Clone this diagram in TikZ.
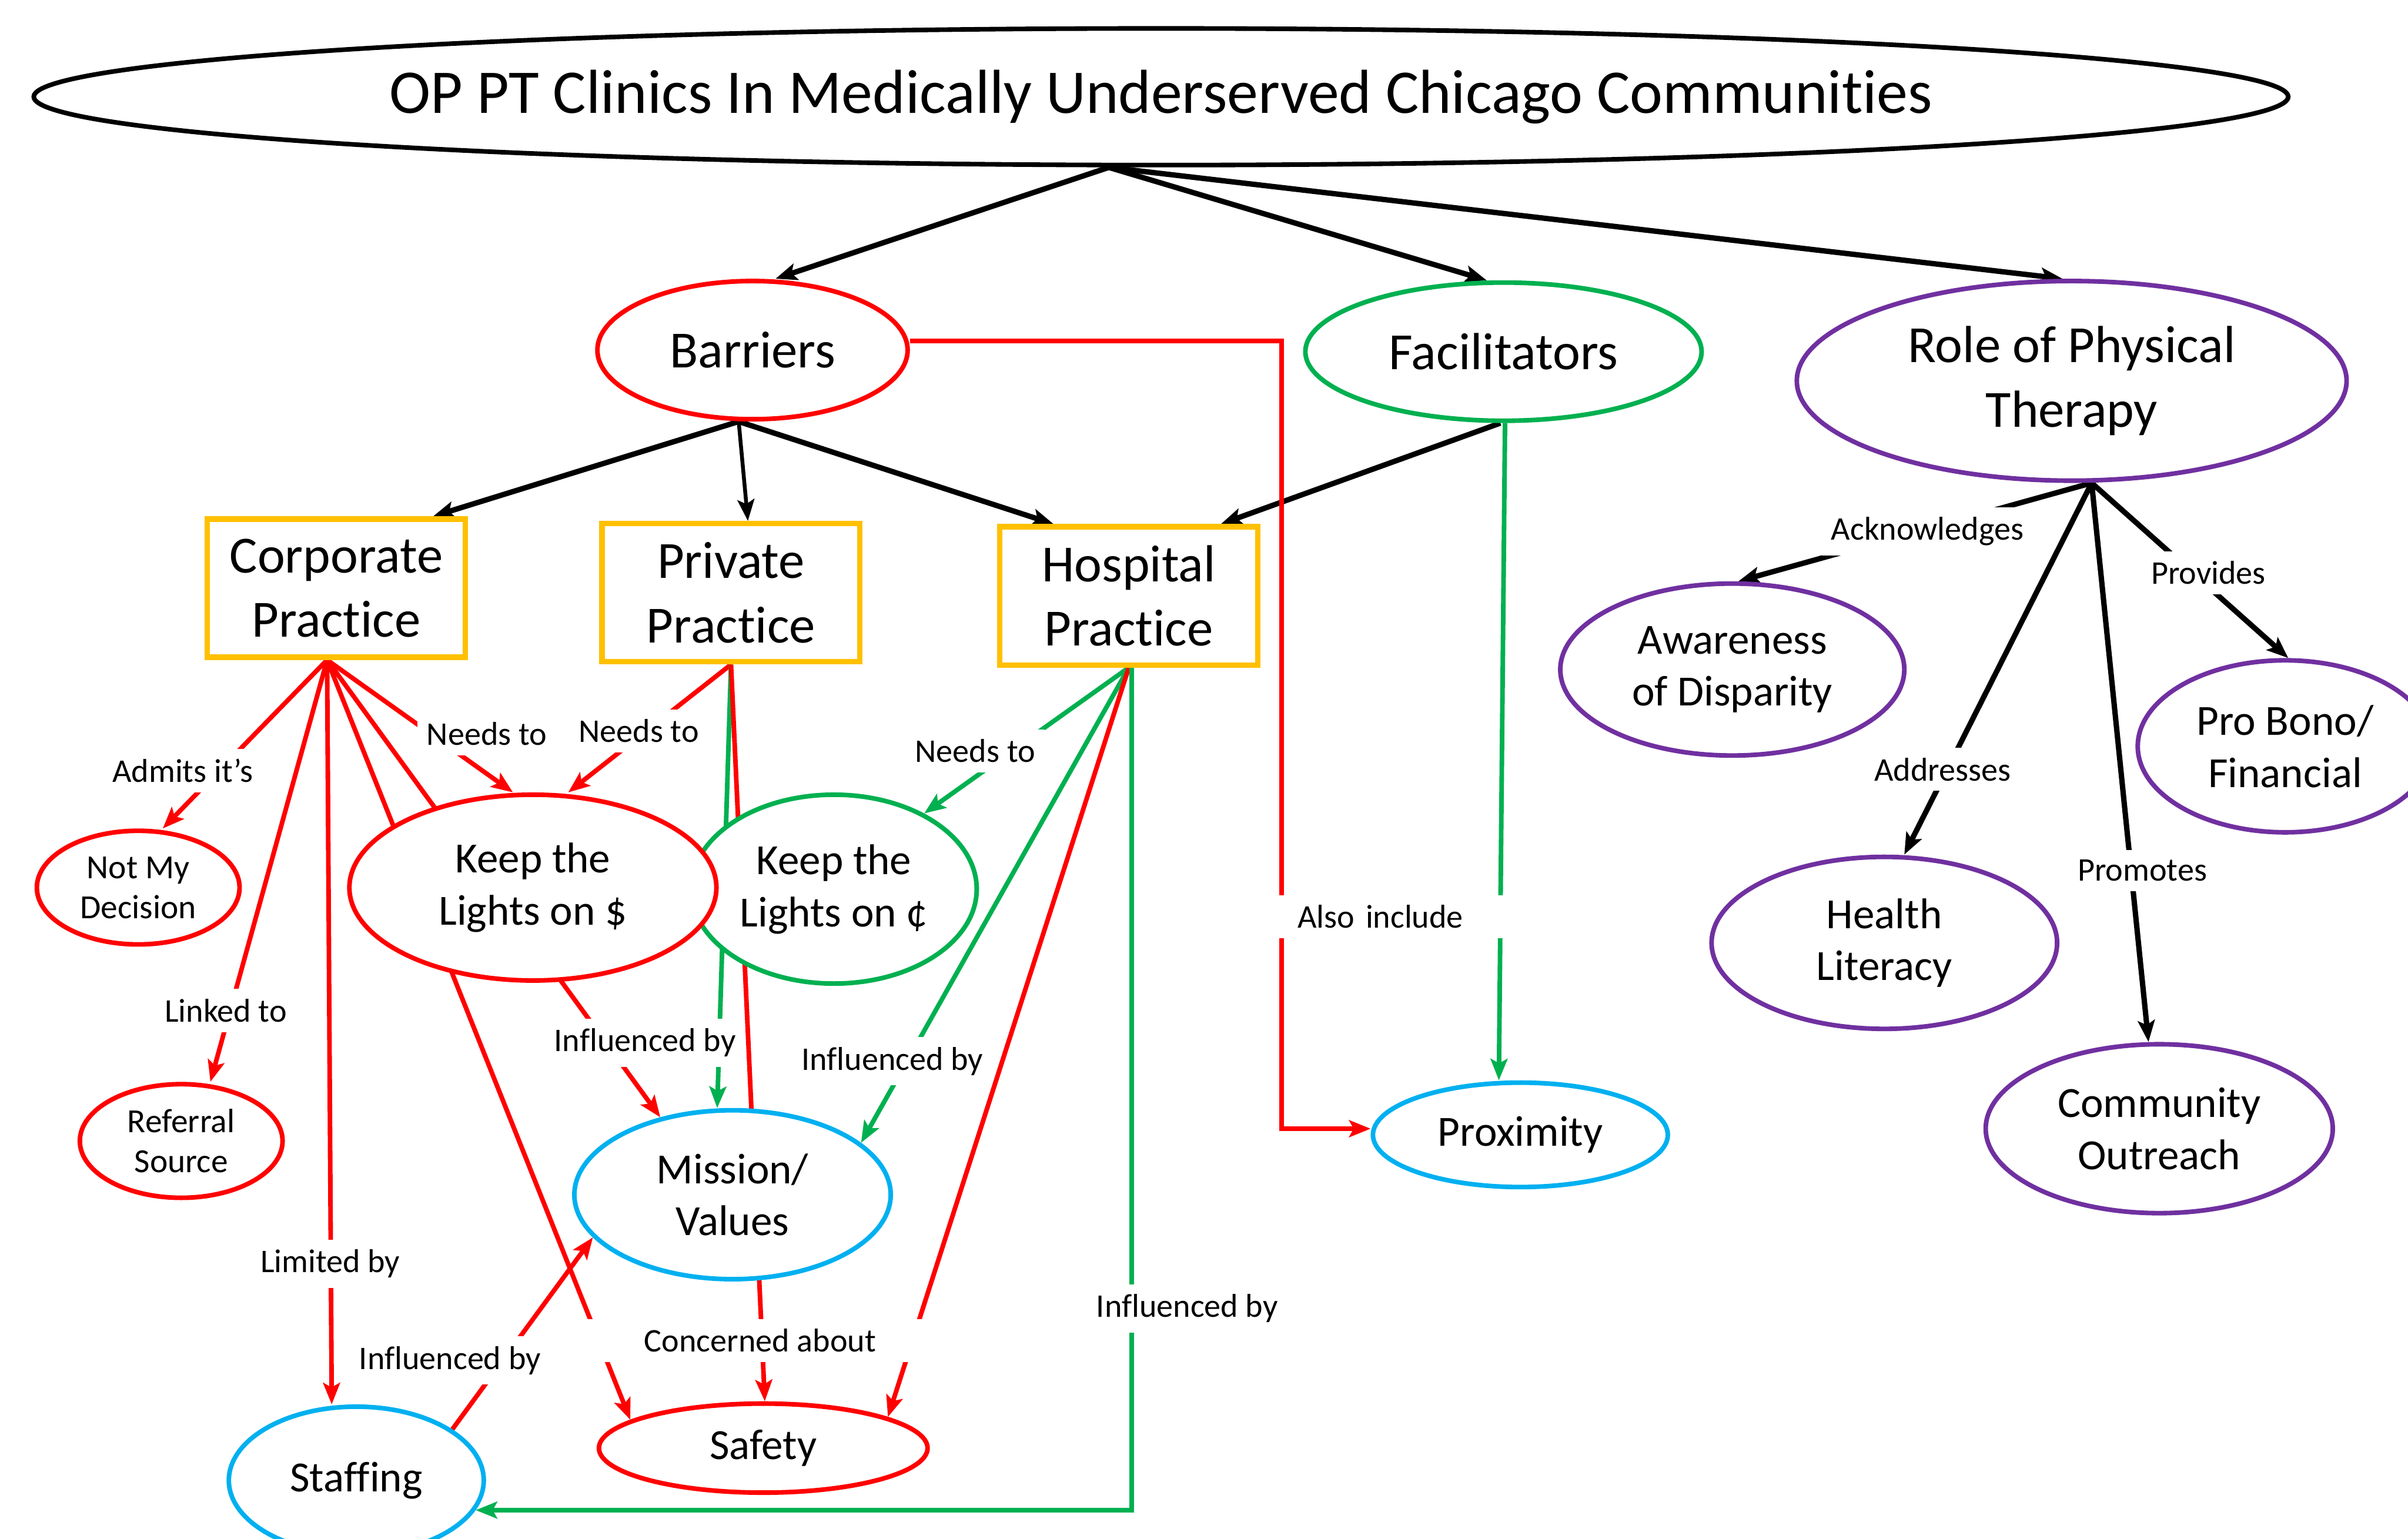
\documentclass[tikz,border=0pt]{standalone}
\usepackage{fontspec}
\setmainfont{Carlito}[Ligatures=NoCommon]
\usetikzlibrary{shapes.geometric,arrows.meta,calc}
\pgfdeclarelayer{bg}
\pgfsetlayers{bg,main}
\definecolor{cred}{HTML}{FF0000}
\definecolor{cgreen}{HTML}{00B050}
\definecolor{cyellow}{HTML}{FFC000}
\definecolor{cblue}{HTML}{00B0F0}
\definecolor{cpurple}{HTML}{7030A0}

\begin{document}
\begin{tikzpicture}[x=1pt,y=-1pt,
  ell/.style={ellipse, draw, line width=3pt, fill=white, inner sep=0pt, align=center},
  box/.style={rectangle, draw=cyellow, line width=3.5pt, fill=white, inner sep=0pt, align=center,
              minimum width=168pt, minimum height=90pt},
  big/.style={font=\fontsize{34}{42}\selectfont},
  mid/.style={font=\fontsize{28}{34}\selectfont},
  sml/.style={font=\fontsize{22}{26}\selectfont},
  lbl/.style={fill=white, inner xsep=6pt, inner ysep=6.5pt, font=\fontsize{21.5}{24}\selectfont},
  tip/.style={-{Stealth[length=14pt,width=11pt,inset=3pt]}},
  blk/.style={draw=black, line width=3.5pt, tip},
  rc/.style={draw=cred, line width=3pt, tip},
  gc/.style={draw=cgreen, line width=3pt, tip},
]
\useasboundingbox (0,0) rectangle (1568,1002);

% title
\node[ell, draw=black, minimum width=1468pt, minimum height=89pt,
      font=\fontsize{40.5}{48}\selectfont] (title) at (756,63)
  {OP PT Clinics In Medically Underserved Chicago Communities};

% second level
\node[ell, draw=cred, big, minimum width=202pt, minimum height=90pt] (barr) at (490,228) {Barriers};
\node[ell, draw=cgreen, big, minimum width=258pt, minimum height=90pt] (fac) at (979,229) {Facilitators};
\node[ell, draw=cpurple, big, minimum width=358pt, minimum height=130pt] (role) at (1349,248) {Role of Physical\\Therapy};

% practice settings
\node[box, big] (corp) at (219,383) {Corporate\\Practice};
\node[box, big] (priv) at (476,386) {Private\\Practice};
\node[box, big] (hosp) at (735,388) {Hospital\\Practice};

% barrier details
\node[ell, draw=cred, sml, minimum width=132pt, minimum height=74pt] (nmd) at (90,578) {Not My\\Decision};
\node[ell, draw=cred, sml, minimum width=132pt, minimum height=74pt] (ref) at (118,743) {Referral\\Source};
\node[ell, draw=cgreen, mid, minimum width=186pt, minimum height=123pt] (keepc) at (543,579) {Keep the\\Lights on ¢};
\node[ell, draw=cred, mid, minimum width=239pt, minimum height=121pt] (keepd) at (347,578) {Keep the\\Lights on \$};
\node[ell, draw=cblue, mid, minimum width=206pt, minimum height=110pt] (mission) at (477,778) {Mission/\\Values};
\node[ell, draw=cblue, mid, minimum width=166pt, minimum height=96pt] (staff) at (232,964) {Staffing};
\node[ell, draw=cred, mid, minimum width=214pt, minimum height=58pt] (safety) at (497,943) {Safety};
\node[ell, draw=cblue, mid, minimum width=192pt, minimum height=68pt] (prox) at (990,739) {Proximity};

% role of physical therapy details
\node[ell, draw=cpurple, mid, minimum width=224pt, minimum height=112pt] (aware) at (1128,436) {Awareness\\of Disparity};
\node[ell, draw=cpurple, mid, minimum width=192pt, minimum height=112pt] (probono) at (1488,486) {Pro Bono/\\Financial};
\node[ell, draw=cpurple, mid, minimum width=225pt, minimum height=112pt] (health) at (1227,614) {Health\\Literacy};
\node[ell, draw=cpurple, mid, minimum width=226pt, minimum height=110pt] (comm) at (1406,735) {Community\\Outreach};

% connectors, kept behind the nodes
\begin{pgfonlayer}{bg}
  \coordinate (tH) at ($(title.south)+(-34,0)$);
  \draw[blk] (tH) -- ($(barr.north)+(15,0)$);
  \draw[blk] (tH) -- ($(fac.north)+(-11,0)$);
  \draw[blk] (tH) -- ($(role.north)+(-6,0)$);

  \coordinate (bH) at ($(barr.south)+(-9,0)$);
  \draw[blk] (bH) -- ($(corp.north)+(63,0)$);
  \draw[blk, line width=2.5pt] (bH) -- ($(priv.north)+(11,0)$);
  \draw[blk] (bH) -- ($(hosp.north)+(-49,0)$);
  \draw[blk] ($(fac.south)+(-2,0)$) -- ($(hosp.north)+(60,0)$);

  \draw[rc] ($(barr.east)+(0,-6)$) -| ($(prox.west)+(-58,-4)$) -- ($(prox.west)+(0,-4)$);
  \draw[gc] ($(fac.south)+(1,0)$) -- ($(prox.north)+(-14,0)$);

  \coordinate (cH) at ($(corp.south)+(-6,0)$);
  \draw[rc] (cH) -- ($(nmd.north)+(16,0)$);
  \draw[rc] (cH) -- ($(ref.north)+(19,0)$);
  \draw[rc] (cH) -- ($(staff.north)+(-16,0)$);
  \draw[rc] (cH) -- ($(keepd.north)+(-13,0)$);
  \draw[rc] (cH) -- (safety.168);
  \draw[rc] (cH) -- (mission.133);

  \draw[rc] (priv.south) -- ($(keepd.north)+(23,0)$);
  \draw[gc] (priv.south) -- ($(mission.north)+(-10,0)$);
  \draw[rc] (priv.south) -- ($(safety.north)+(1,0)$);

  \draw[gc] (hosp.south) -- (keepc.40);
  \draw[gc] (hosp.south) -- (mission.22);
  \draw[rc] (hosp.south) -- (safety.14);
  \draw[gc] ($(hosp.south)+(2,0)$) |- (staff.-14);

  \draw[rc] (staff.28) -- (mission.197);

  \coordinate (rH) at ($(role.south)+(13,0)$);
  \draw[blk] (rH) -- ($(aware.north)+(4,0)$);
  \draw[blk] (rH) -- ($(probono.north)+(2,0)$);
  \draw[blk] (rH) -- ($(health.north)+(13,0)$);
  \draw[blk] (rH) -- ($(comm.north)+(-7,0)$);
\end{pgfonlayer}

% connector labels
\node[lbl] (l1) at (119,502) {Admits it’s};
\node[lbl] (l2) at (147,658) {Linked to};
\node[lbl] (l3) at (317,478) {Needs to};
\node[lbl] (l4) at (416,476) {Needs to};
\node[lbl] (l5) at (635,489) {Needs to};
\node[lbl] (l6) at (420,679) {Influenced by};
\node[lbl] (l7) at (581,691) {Influenced by};
\node[lbl] (l8) at (215,823) {Limited by};
\node[lbl] (l9) at (293,886) {Influenced by};
\node[lbl, minimum width=228pt] (l10) at (495,873) {Concerned about};
\node[lbl] (l11) at (773,852) {Influenced by};
\node[lbl, inner xsep=0pt, minimum width=150pt, text width=150pt, align=left] (l12) at (907,597)
  {\hspace*{13pt}Also include};
\node[lbl] (l13) at (1255,346) {Acknowledges};
\node[lbl] (l14) at (1438,373) {Provides};
\node[lbl] (l15) at (1265,501) {Addresses};
\node[lbl] (l16) at (1395,567) {Promotes};
\end{tikzpicture}
\end{document}
